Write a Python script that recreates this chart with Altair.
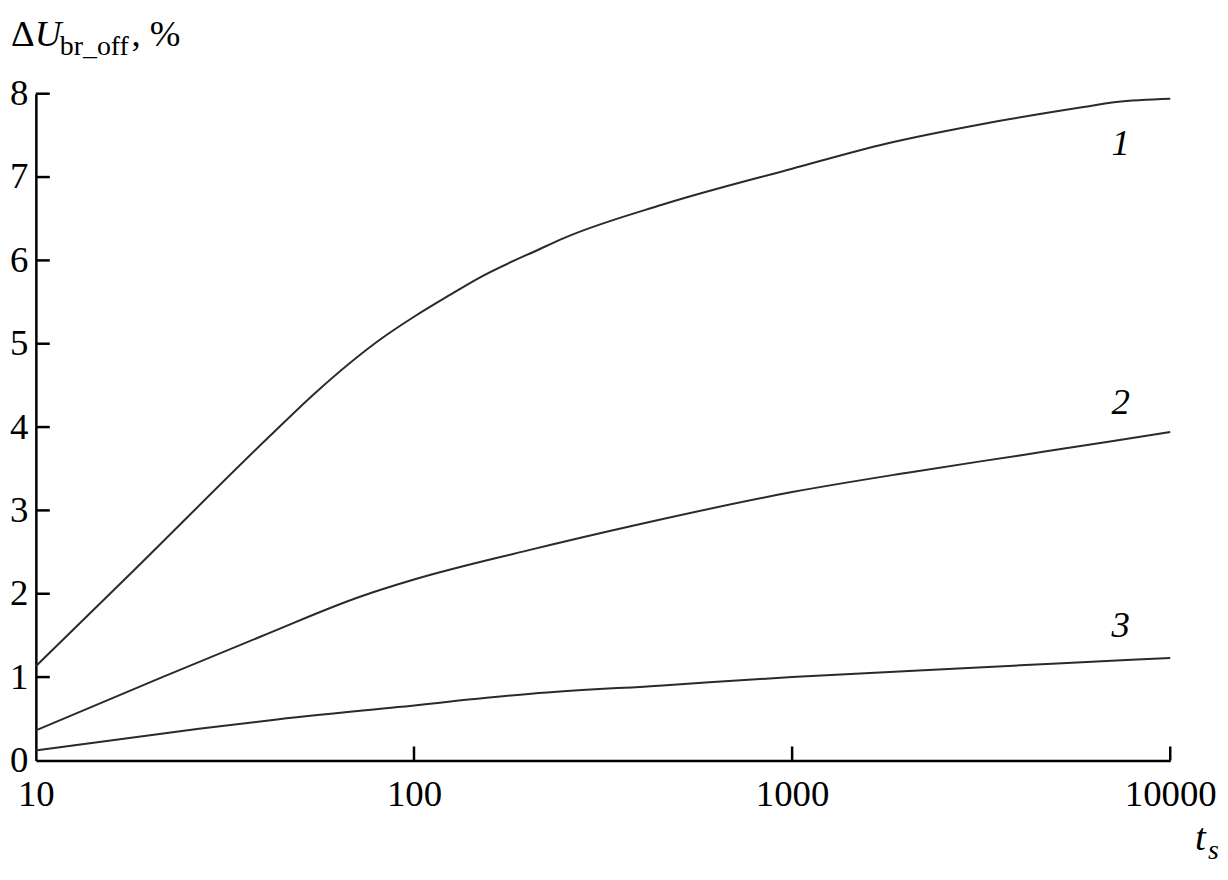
import altair as alt
import pandas as pd

# Curve data (t_s, ΔU %)
t1 = [10, 17.7, 41.3, 54.8, 81.9, 100.5, 122.8, 150, 216, 250, 455, 1000, 1770, 3220, 5900, 7200, 10000]
v1 = [1.13, 2.23, 3.88, 4.41, 5.06, 5.33, 5.57, 5.80, 6.14, 6.27, 6.67, 7.10, 7.40, 7.64, 7.84, 7.90, 7.94]
t2 = [10, 21.6, 39.5, 72.6, 100, 200, 400, 1000, 2000, 4000, 7000, 10000]
v2 = [0.36, 1.0, 1.49, 1.97, 2.17, 2.52, 2.84, 3.22, 3.45, 3.66, 3.83, 3.94]
t3 = [10, 27, 41.3, 90.6, 204, 455, 1000, 2160, 4870, 10000]
v3 = [0.12, 0.38, 0.48, 0.64, 0.80, 0.90, 1.00, 1.08, 1.16, 1.23]

curve_names = ["1", "2", "3"]
label_t = [7400, 7400, 7400]
label_v = [7.40, 4.29, 1.61]

x_ticks = [10, 100, 1000, 10000]
y_ticks = [0, 1, 2, 3, 4, 5, 6, 7, 8]

FONT = "Liberation Serif, Times New Roman, DejaVu Serif, serif"
W, H = 1140, 670

rows = []
for name, ts, vs in zip(curve_names, [t1, t2, t3], [v1, v2, v3]):
    for t, v in zip(ts, vs):
        rows.append({"series": name, "t": t, "v": v})
df = pd.DataFrame(rows)

xscale = alt.Scale(type="log", domain=[10, 10000], nice=False)
yscale = alt.Scale(domain=[0, 8], nice=False, zero=False)

lines = alt.Chart(df).mark_line(
    color="#2a2a2a", strokeWidth=2, interpolate="monotone"
).encode(
    x=alt.X("t:Q", scale=xscale, axis=alt.Axis(
        values=x_ticks, format="d", ticks=False, grid=False,
        domainColor="black", domainWidth=2.5,
        labelFont=FONT, labelFontSize=37, labelColor="black",
        labelPadding=16, labelFlush=False, labelOverlap=False, title=None)),
    y=alt.Y("v:Q", scale=yscale, axis=alt.Axis(
        values=y_ticks, format="d", ticks=False, grid=False,
        domainColor="black", domainWidth=2.5,
        labelFont=FONT, labelFontSize=37, labelColor="black",
        labelPadding=8, labelOverlap=False, title=None)),
    detail="series:N",
)

# inward ticks
xt = alt.Chart(pd.DataFrame({"t": x_ticks[1:]})).mark_rule(
    color="black", strokeWidth=2.5
).encode(x=alt.X("t:Q", scale=xscale), y=alt.value(H), y2=alt.value(H - 14))

yt = alt.Chart(pd.DataFrame({"v": y_ticks[1:]})).mark_rule(
    color="black", strokeWidth=2.5
).encode(y=alt.Y("v:Q", scale=yscale), x=alt.value(0), x2=alt.value(14))

labels = alt.Chart(pd.DataFrame({"t": label_t, "v": label_v, "name": curve_names})).mark_text(
    font=FONT, fontSize=37, fontStyle="italic", color="black", align="center", baseline="middle"
).encode(x=alt.X("t:Q", scale=xscale), y=alt.Y("v:Q", scale=yscale), text="name:N")


def txt(s, x, y, size, italic=False):
    kw = dict(font=FONT, fontSize=size, color="black", align="left", baseline="alphabetic")
    if italic:
        kw["fontStyle"] = "italic"
    return alt.Chart(pd.DataFrame({"s": [s]})).mark_text(**kw).encode(
        text="s:N", x=alt.value(x), y=alt.value(y))


title_parts = [
    txt("Δ", -25, -48, 37),
    txt("U", -1, -48, 37, italic=True),
    txt("br_off", 24, -39, 28),
    txt(", %", 96, -48, 37),
    txt("t", 1165, 760, 39, italic=True),
    txt("s", 1178, 769, 28, italic=True),
]

chart = alt.layer(lines, xt, yt, labels, *title_parts).properties(
    width=W, height=H,
    background="white",
    autosize=alt.AutoSizeParams(type="none"),
    padding={"left": 28, "top": 84, "right": 50, "bottom": 110},
).configure_view(stroke=None)

chart.save("out.html", embed_options={"renderer": "svg", "actions": False})
